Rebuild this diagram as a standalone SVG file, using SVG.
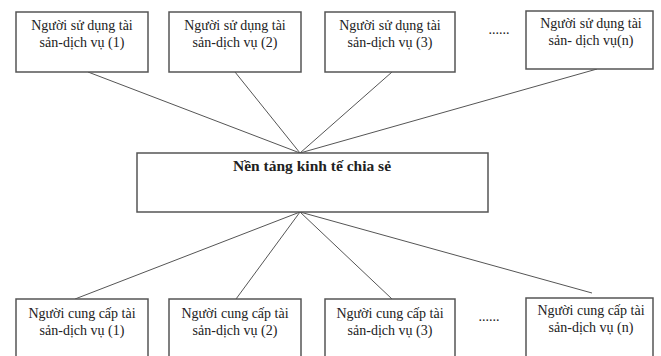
<svg xmlns="http://www.w3.org/2000/svg" width="661" height="356" viewBox="0 0 661 356">
<style>
.box{fill:#fff;stroke:#555;stroke-width:1.5}
.t{font-family:"Liberation Serif",serif;font-size:14px;fill:#222;text-anchor:middle}
.b{font-weight:bold;font-size:15.5px}
.ln{stroke:#555;stroke-width:1;fill:none}
</style>
<rect width="661" height="356" fill="#fff"/>
<g id="connectors">
<line class="ln" x1="88" y1="72" x2="300" y2="153"/>
<line class="ln" x1="235" y1="72" x2="300" y2="153"/>
<line class="ln" x1="392" y1="72" x2="300" y2="153"/>
<line class="ln" x1="597" y1="69" x2="300" y2="153"/>
<line class="ln" x1="300" y1="212" x2="75" y2="299"/>
<line class="ln" x1="300" y1="212" x2="236" y2="299"/>
<line class="ln" x1="300" y1="212" x2="392" y2="299"/>
<line class="ln" x1="300" y1="212" x2="592" y2="293"/>
</g>
<g id="u1"><rect class="box" x="16" y="12" width="132" height="60"/><text class="t" x="82" y="30">Người sử dụng tài</text><text class="t" x="82" y="47">sản-dịch vụ (1)</text></g>
<g id="u2"><rect class="box" x="169" y="12" width="132" height="60"/><text class="t" x="235" y="30">Người sử dụng tài</text><text class="t" x="235" y="47">sản-dịch vụ (2)</text></g>
<g id="u3"><rect class="box" x="325" y="12" width="130" height="60"/><text class="t" x="390" y="30">Người sử dụng tài</text><text class="t" x="390" y="47">sản-dịch vụ (3)</text></g>
<g id="udots"><text class="t" x="499" y="34">......</text></g>
<g id="un"><rect class="box" x="526" y="11" width="127" height="58"/><text class="t" x="591" y="28">Người sử dụng tài</text><text class="t" x="591" y="45">sản- dịch vụ(n)</text></g>
<g id="center"><rect class="box" x="137" y="153" width="351" height="59"/><text class="t b" x="312" y="171">Nền tảng kinh tế chia sẻ</text></g>
<g id="p1"><rect class="box" x="16" y="299" width="132" height="70"/><text class="t" x="82" y="318">Người cung cấp tài</text><text class="t" x="82" y="335">sản-dịch vụ (1)</text></g>
<g id="p2"><rect class="box" x="169" y="299" width="132" height="70"/><text class="t" x="235" y="318">Người cung cấp tài</text><text class="t" x="235" y="335">sản-dịch vụ (2)</text></g>
<g id="p3"><rect class="box" x="325" y="299" width="130" height="70"/><text class="t" x="390" y="318">Người cung cấp tài</text><text class="t" x="390" y="335">sản-dịch vụ (3)</text></g>
<g id="pdots"><text class="t" x="489" y="321">......</text></g>
<g id="pn"><rect class="box" x="526" y="298" width="127" height="70"/><text class="t" x="591" y="315">Người cung cấp tài</text><text class="t" x="591" y="332">sản-dịch vụ (n)</text></g>
</svg>
